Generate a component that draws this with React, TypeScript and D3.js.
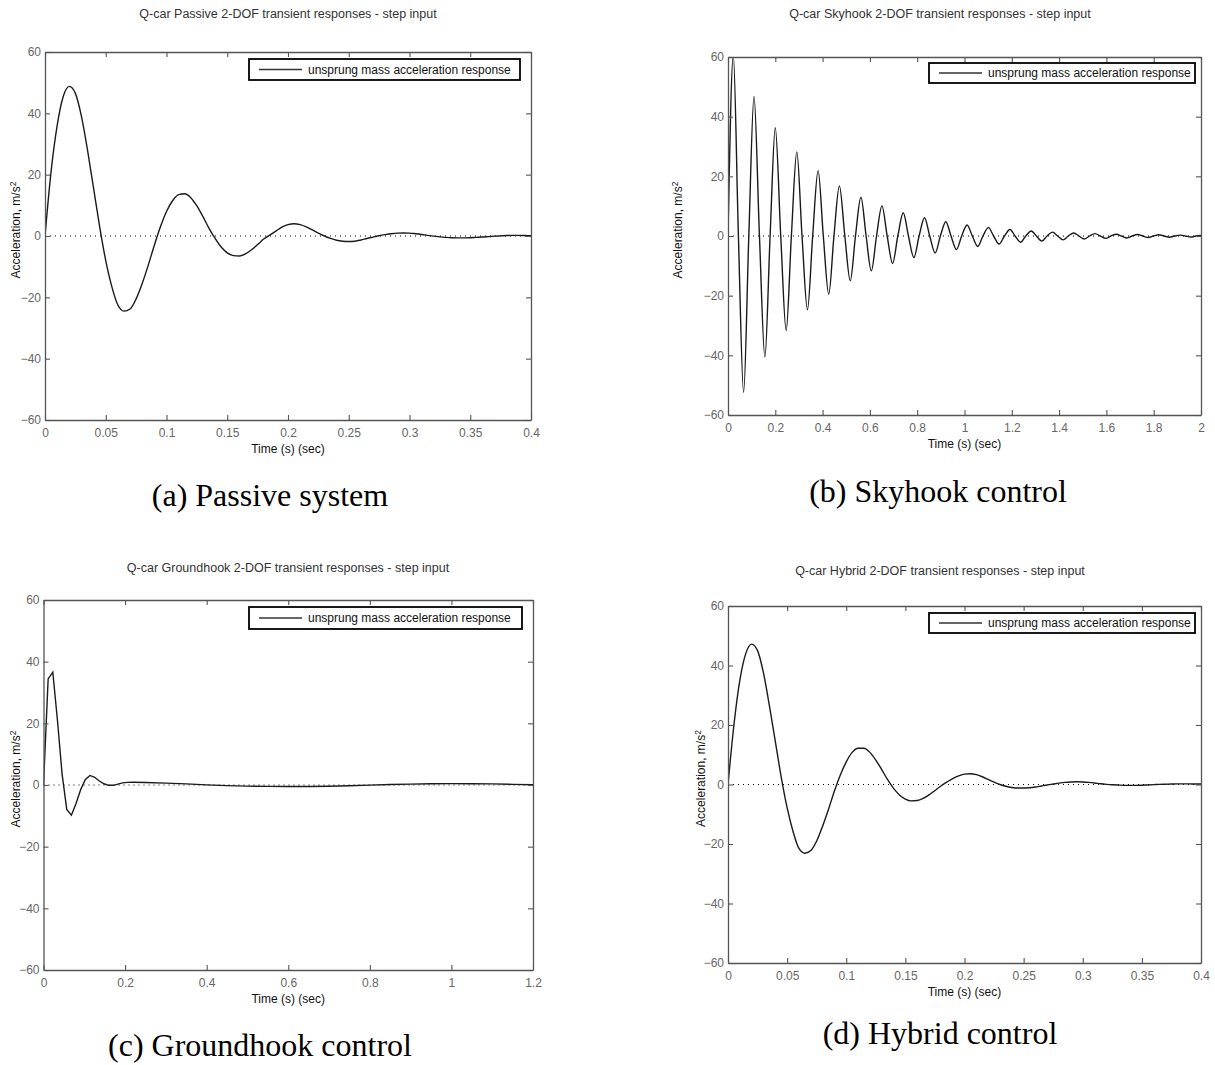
import React, { useRef, useEffect } from 'react';
import * as d3 from 'd3';

// time grid shared by the passive and hybrid runs (0 .. 0.4 s, 5 ms)
const shortTime = [
  0, 0.005, 0.01, 0.015, 0.02, 0.025, 0.03, 0.035, 0.04, 0.045,
  0.05, 0.055, 0.06, 0.065, 0.07, 0.075, 0.08, 0.085, 0.09, 0.095,
  0.1, 0.105, 0.11, 0.115, 0.12, 0.125, 0.13, 0.135, 0.14, 0.145,
  0.15, 0.155, 0.16, 0.165, 0.17, 0.175, 0.18, 0.185, 0.19, 0.195,
  0.2, 0.205, 0.21, 0.215, 0.22, 0.225, 0.23, 0.235, 0.24, 0.245,
  0.25, 0.255, 0.26, 0.265, 0.27, 0.275, 0.28, 0.285, 0.29, 0.295,
  0.3, 0.305, 0.31, 0.315, 0.32, 0.325, 0.33, 0.335, 0.34, 0.345,
  0.35, 0.355, 0.36, 0.365, 0.37, 0.375, 0.38, 0.385, 0.39, 0.395, 0.4
];

const passiveAccel = [
  0, 21, 36, 45.5, 48.8, 46.5, 39, 28, 15.5, 3,
  -8, -16.5, -22.5, -24.5, -23.8, -20.5, -15.5, -9.5, -3, 3,
  8, 11.5, 13.5, 13.8, 12.5, 9.8, 6.3, 2.5, -0.8, -3.6,
  -5.5, -6.4, -6.5, -5.8, -4.5, -2.8, -1.0, 0.3, 1.6, 2.9,
  3.7, 4.0, 3.7, 3.0, 2.0, 0.9, 0, -0.8, -1.4, -1.7,
  -1.8, -1.7, -1.3, -0.8, -0.35, 0.1, 0.45, 0.75, 0.95, 1.0,
  0.95, 0.75, 0.5, 0.2, -0.05, -0.3, -0.45, -0.55, -0.6, -0.6,
  -0.55, -0.45, -0.35, -0.2, -0.05, 0.05, 0.15, 0.2, 0.2, 0.15, 0.1
];

const hybridAccel = [
  0, 20, 35, 44, 47.2, 45, 37.5, 26.5, 14.5, 2.5,
  -7.8, -15.8, -21.5, -23.1, -22.2, -19, -14, -8.3, -2.2, 3.2,
  7.6, 10.8, 12.2, 12.2, 10.8, 8.2, 5, 1.6, -1.3, -3.5,
  -4.9, -5.5, -5.4, -4.7, -3.5, -2, -0.5, 0.8, 2, 2.9,
  3.5, 3.6, 3.3, 2.6, 1.7, 0.8, 0, -0.6, -1.0, -1.2,
  -1.2, -1.1, -0.85, -0.5, -0.15, 0.15, 0.45, 0.7, 0.85, 0.9,
  0.85, 0.7, 0.5, 0.25, 0.05, -0.1, -0.2, -0.28, -0.3, -0.3,
  -0.25, -0.15, -0.05, 0.05, 0.1, 0.15, 0.2, 0.2, 0.2, 0.15, 0.15
];

// skyhook: peaks, zero crossings and troughs
const skyhookTime = [
  0, 0.0225, 0.044, 0.066, 0.088, 0.11, 0.133, 0.156, 0.178, 0.2,
  0.223, 0.246, 0.268, 0.291, 0.313, 0.336, 0.358, 0.381, 0.403, 0.426,
  0.448, 0.471, 0.494, 0.517, 0.539, 0.562, 0.584, 0.606, 0.628, 0.651,
  0.673, 0.696, 0.718, 0.741, 0.763, 0.786, 0.808, 0.831, 0.853, 0.876,
  0.898, 0.921, 0.943, 0.966, 0.988, 1.011, 1.033, 1.056, 1.078, 1.101,
  1.123, 1.146, 1.169, 1.192, 1.214, 1.237, 1.259, 1.282, 1.304, 1.327,
  1.349, 1.372, 1.394, 1.417, 1.439, 1.462, 1.484, 1.507, 1.529, 1.552,
  1.574, 1.597, 1.619, 1.642, 1.664, 1.687, 1.709, 1.732, 1.754, 1.777,
  1.799, 1.822, 1.844, 1.867, 1.889, 1.912, 1.934, 1.957, 1.979, 2.0
];

const skyhookAccel = [
  0, 60.5, 0, -52.4, 0, 46.8, 0, -40.6, 0, 36.3,
  0, -31.7, 0, 28.2, 0, -24.7, 0, 21.9, 0, -19.5,
  0, 16.8, 0, -15.0, 0, 13.0, 0, -11.7, 0, 10.1,
  0, -9.2, 0, 7.8, 0, -7.2, 0, 6.1, 0, -5.7,
  0, 4.8, 0, -4.5, 0, 3.7, 0, -3.5, 0, 2.8,
  0, -2.7, 0, 2.2, 0, -2.1, 0, 1.7, 0, -1.7,
  0, 1.3, 0, -1.3, 0, 1.0, 0, -1.0, 0, 0.8,
  0, -0.8, 0, 0.6, 0, -0.65, 0, 0.5, 0, -0.5,
  0, 0.4, 0, -0.4, 0, 0.3, 0, -0.35, 0, 0.2
];

// groundhook: coarse solver steps early on, smooth tail afterwards
const groundhookTime = [
  0, 0.0114, 0.0228, 0.0342, 0.0456, 0.057, 0.0684, 0.0798, 0.0912, 0.1026,
  0.114, 0.1254, 0.1368, 0.1482, 0.1596, 0.171, 0.1824, 0.1938, 0.2052, 0.22,
  0.25, 0.3, 0.35, 0.4, 0.45, 0.5, 0.55, 0.6, 0.65, 0.7,
  0.75, 0.8, 0.85, 0.9, 0.95, 1.0, 1.05, 1.1, 1.15, 1.2
];

const groundhookAccel = [
  0, 34.4, 36.6, 21, 3.5, -7.9, -9.8, -6, -1.5, 1.8,
  3.1, 2.5, 1.3, 0.4, -0.1, -0.1, 0.3, 0.7, 0.85, 0.9,
  0.8, 0.6, 0.35, 0.05, -0.2, -0.35, -0.45, -0.5, -0.5, -0.4,
  -0.25, -0.05, 0.15, 0.3, 0.4, 0.45, 0.4, 0.35, 0.2, 0.1
];

const yTicks = [-60, -40, -20, 0, 20, 40, 60];
const ticksShort = [0, 0.05, 0.1, 0.15, 0.2, 0.25, 0.3, 0.35, 0.4];
const ticksSky = [0, 0.2, 0.4, 0.6, 0.8, 1, 1.2, 1.4, 1.6, 1.8, 2];
const ticksGround = [0, 0.2, 0.4, 0.6, 0.8, 1, 1.2];

const legendLabel = 'unsprung mass acceleration response';
const xLabel = 'Time (s) (sec)';

const panels = [
  {
    id: 'a', title: 'Q-car Passive 2-DOF transient responses - step input', caption: '(a) Passive system',
    time: shortTime, accel: passiveAccel, xMax: 0.4, xTicks: ticksShort, curve: d3.curveMonotoneX,
    left: 45, top: 52, right: 531, bottom: 420,
    titleX: 288, titleY: 14, yLabelX: 16, capX: 270, capY: 495,
    legend: { x: 249, y: 59, w: 271, h: 21 }
  },
  {
    id: 'b', title: 'Q-car Skyhook 2-DOF transient responses - step input', caption: '(b) Skyhook control',
    time: skyhookTime, accel: skyhookAccel, xMax: 2, xTicks: ticksSky, curve: d3.curveMonotoneX,
    left: 728, top: 57, right: 1201, bottom: 415,
    titleX: 940, titleY: 14, yLabelX: 678, capX: 938, capY: 491,
    legend: { x: 929, y: 63, w: 266, h: 20 }
  },
  {
    id: 'c', title: 'Q-car Groundhook 2-DOF transient responses - step input', caption: '(c) Groundhook control',
    time: groundhookTime, accel: groundhookAccel, xMax: 1.2, xTicks: ticksGround, curve: d3.curveLinear,
    left: 43.5, top: 600, right: 533, bottom: 970,
    titleX: 288, titleY: 568, yLabelX: 16, capX: 260, capY: 1045,
    legend: { x: 249, y: 607, w: 273, h: 22 }
  },
  {
    id: 'd', title: 'Q-car Hybrid 2-DOF transient responses - step input', caption: '(d) Hybrid control',
    time: shortTime, accel: hybridAccel, xMax: 0.4, xTicks: ticksShort, curve: d3.curveMonotoneX,
    left: 728, top: 606, right: 1201, bottom: 963,
    titleX: 940, titleY: 571, yLabelX: 701, capX: 940, capY: 1033,
    legend: { x: 929, y: 613, w: 266, h: 20 }
  }
];

const sans = '"Liberation Sans", Arial, Helvetica, sans-serif';
const serif = '"Liberation Serif", "Times New Roman", serif';

const Panel = ({ p }) => {
  const ref = useRef();

  useEffect(() => {
    const g = d3.select(ref.current);
    g.selectAll('*').remove();

    const x = d3.scaleLinear().domain([0, p.xMax]).range([p.left, p.right]);
    const y = d3.scaleLinear().domain([-60, 60]).range([p.bottom, p.top]);
    const fmt = d3.format('~g');
    const data = p.time.map((t, i) => ({ t, v: p.accel[i] }));

    g.append('clipPath').attr('id', `clip-${p.id}`)
      .append('rect')
      .attr('x', p.left).attr('y', p.top)
      .attr('width', p.right - p.left).attr('height', p.bottom - p.top);

    // dotted zero reference
    g.append('line')
      .attr('x1', x(0)).attr('x2', x(p.xMax))
      .attr('y1', y(0)).attr('y2', y(0))
      .attr('stroke', '#000').attr('stroke-width', 1)
      .attr('stroke-dasharray', '1,4');

    const line = d3.line()
      .x(d => x(d.t))
      .y(d => y(d.v))
      .curve(p.curve);

    g.append('path')
      .datum(data)
      .attr('clip-path', `url(#clip-${p.id})`)
      .attr('fill', 'none')
      .attr('stroke', '#1a1a1a')
      .attr('stroke-width', 1.4)
      .attr('d', line);

    // box axes with inward ticks, MATLAB style
    const bottom = g.append('g').attr('transform', `translate(0,${p.bottom})`)
      .call(d3.axisBottom(x).tickValues(p.xTicks).tickSize(-5).tickSizeOuter(0).tickPadding(8).tickFormat(fmt));
    const top = g.append('g').attr('transform', `translate(0,${p.top})`)
      .call(d3.axisTop(x).tickValues(p.xTicks).tickSize(-5).tickSizeOuter(0).tickFormat(() => ''));
    const left = g.append('g').attr('transform', `translate(${p.left},0)`)
      .call(d3.axisLeft(y).tickValues(yTicks).tickSize(-5).tickSizeOuter(0).tickPadding(4).tickFormat(fmt));
    const right = g.append('g').attr('transform', `translate(${p.right},0)`)
      .call(d3.axisRight(y).tickValues(yTicks).tickSize(-5).tickSizeOuter(0).tickFormat(() => ''));

    [bottom, top, left, right].forEach(ax => {
      ax.select('.domain').attr('stroke', '#555').attr('stroke-width', 1.3);
      ax.selectAll('.tick line').attr('stroke', '#555').attr('stroke-width', 1.1);
      ax.selectAll('text')
        .attr('fill', '#666')
        .style('font-family', sans)
        .style('font-size', '12px');
    });

    // title
    g.append('text')
      .attr('x', p.titleX).attr('y', p.titleY).attr('dy', '0.35em')
      .attr('text-anchor', 'middle')
      .style('font-family', sans).style('font-size', '12.5px')
      .attr('fill', '#333')
      .text(p.title);

    // axis labels
    g.append('text')
      .attr('x', (p.left + p.right) / 2).attr('y', p.bottom + 29).attr('dy', '0.35em')
      .attr('text-anchor', 'middle')
      .style('font-family', sans).style('font-size', '12px')
      .attr('fill', '#111')
      .text(xLabel);

    const yl = g.append('text')
      .attr('transform', `translate(${p.yLabelX},${(p.top + p.bottom) / 2 - 6}) rotate(-90)`)
      .attr('dy', '0.35em')
      .attr('text-anchor', 'middle')
      .style('font-family', sans).style('font-size', '12px')
      .attr('fill', '#111');
    yl.append('tspan').text('Acceleration, m/s');
    yl.append('tspan').attr('dy', '-0.45em').style('font-size', '8.5px').text('2');

    // legend
    const lg = p.legend;
    g.append('rect')
      .attr('x', lg.x).attr('y', lg.y).attr('width', lg.w).attr('height', lg.h)
      .attr('fill', '#fff').attr('stroke', '#000').attr('stroke-width', 1.8);
    g.append('line')
      .attr('x1', lg.x + 10).attr('x2', lg.x + 53)
      .attr('y1', lg.y + lg.h / 2).attr('y2', lg.y + lg.h / 2)
      .attr('stroke', '#333').attr('stroke-width', 1.3);
    g.append('text')
      .attr('x', lg.x + 59).attr('y', lg.y + lg.h / 2).attr('dy', '0.35em')
      .style('font-family', sans).style('font-size', '12px')
      .attr('fill', '#111')
      .text(legendLabel);

    // caption under each subplot
    g.append('text')
      .attr('x', p.capX).attr('y', p.capY).attr('dy', '0.35em')
      .attr('text-anchor', 'middle')
      .style('font-family', serif).style('font-size', '32px')
      .attr('fill', '#000')
      .text(p.caption);
  }, [p]);

  return <g ref={ref} />;
};

const App = () => (
  <svg width={1215} height={1065} style={{ position: 'absolute', left: 0, top: 0, background: '#fff' }}>
    {panels.map(p => <Panel key={p.id} p={p} />)}
  </svg>
);

export default App;
